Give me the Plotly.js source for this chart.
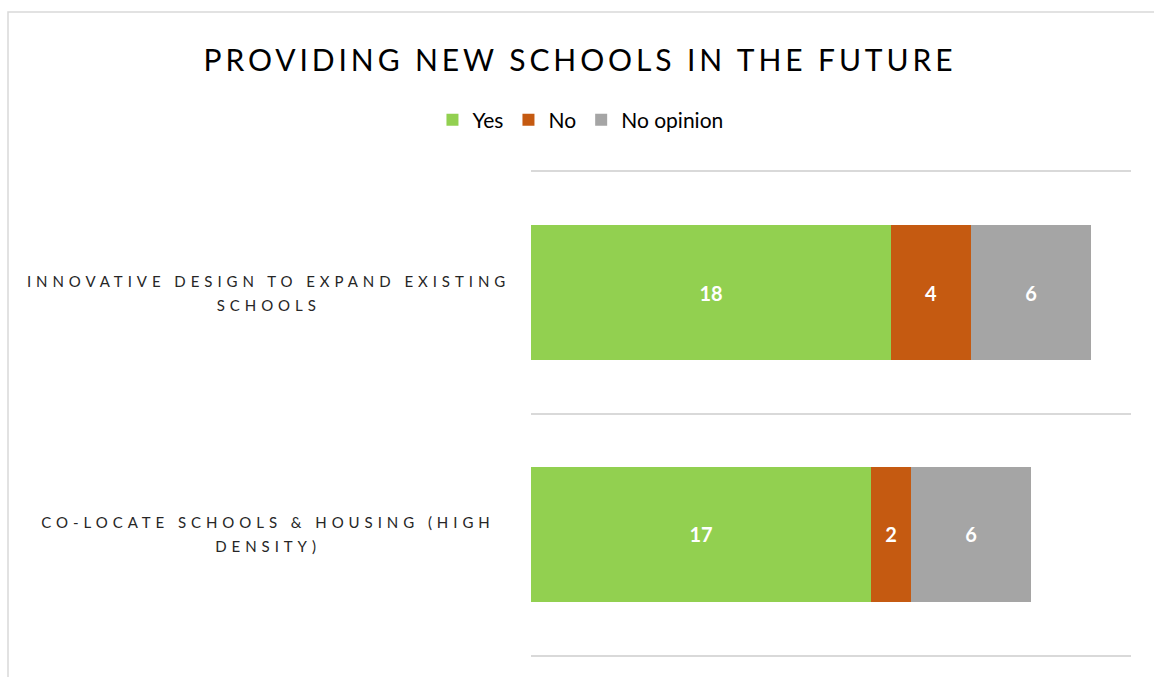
<!DOCTYPE html>
<html>
<head>
<meta charset="utf-8">
<script src="https://cdn.plot.ly/plotly-3.0.1.min.js"></script>
<style>
  html, body { margin: 0; padding: 0; background: #fff; }
  #chart { width: 1154px; height: 677px; }
  .gtitle { letter-spacing: 3.9px; }
  g.annotation text { letter-spacing: 4.95px; }
</style>
</head>
<body>
<div id="chart"></div>
<script>
// Data
const categories = [
  "CO-LOCATE SCHOOLS & HOUSING (HIGH<br>DENSITY)",
  "INNOVATIVE DESIGN TO EXPAND EXISTING<br>SCHOOLS"
];
const seriesNames = ["Yes", "No", "No opinion"];
const yesValues = [17, 18];
const noValues = [2, 4];
const noOpinionValues = [6, 6];
const seriesColors = ["#92D050", "#C55A11", "#A5A5A5"];
const chartTitle = "PROVIDING NEW SCHOOLS IN THE FUTURE";

const seriesValues = [yesValues, noValues, noOpinionValues];
const font = "Lato, 'Open Sans', sans-serif";

const traces = seriesNames.map((name, i) => ({
  type: "bar",
  orientation: "h",
  name: name,
  y: categories,
  x: seriesValues[i],
  marker: { color: seriesColors[i] },
  text: seriesValues[i].map(String),
  textposition: "inside",
  insidetextanchor: "middle",
  textangle: 0,
  insidetextfont: { color: "#ffffff", size: 20, family: font, weight: "bold" },
  hoverinfo: "x+name"
}));

// category labels, one annotation per line so the line spacing can match
const annotations = [];
categories.forEach(c => {
  const lines = c.split("<br>");
  lines.forEach((ln, k) => {
    annotations.push({
      text: ln,
      xref: "paper",
      yref: "y",
      x: (268 - 531) / 600,
      y: c,
      yshift: ((lines.length - 1) / 2 - k) * 24,
      xanchor: "center",
      yanchor: "middle",
      align: "center",
      showarrow: false,
      font: { family: font, size: 15, color: "#262626" }
    });
  });
});

const layout = {
  width: 1154,
  height: 677,
  paper_bgcolor: "#ffffff",
  plot_bgcolor: "#ffffff",
  margin: { l: 531, r: 23, t: 172, b: 22 },
  barmode: "stack",
  bargap: 0.44,
  title: {
    text: chartTitle,
    x: 580 / 1154,
    xanchor: "center",
    y: 1 - 60 / 677,
    yanchor: "middle",
    font: { family: font, size: 30, color: "#000000" }
  },
  showlegend: true,
  legend: {
    orientation: "h",
    traceorder: "normal",
    x: 0.503,
    xref: "container",
    xanchor: "center",
    y: 1 - 120 / 677,
    yref: "container",
    yanchor: "middle",
    font: { family: font, size: 21, color: "#000000" },
    itemwidth: 30
  },
  xaxis: {
    range: [0, 30],
    showticklabels: false,
    showgrid: false,
    zeroline: false,
    showline: true,
    mirror: true,
    linecolor: "#d9d9d9",
    linewidth: 2,
    ticks: ""
  },
  yaxis: {
    type: "category",
    categoryorder: "array",
    categoryarray: categories,
    range: [-0.5, 1.5],
    tickson: "boundaries",
    showgrid: true,
    gridcolor: "#d9d9d9",
    gridwidth: 2,
    showticklabels: false,
    ticks: "",
    zeroline: false,
    showline: false
  },
  annotations: annotations,
  shapes: [{
    type: "rect",
    xref: "paper",
    yref: "paper",
    x0: (8 - 531) / 600,
    x1: (1170 - 531) / 600,
    y0: (655 - 700) / 483,
    y1: (655 - 12) / 483,
    line: { color: "#d9d9d9", width: 1.5 },
    fillcolor: "rgba(0,0,0,0)",
    layer: "below"
  }]
};

Plotly.newPlot("chart", traces, layout, { displayModeBar: false, responsive: false });
</script>
</body>
</html>
